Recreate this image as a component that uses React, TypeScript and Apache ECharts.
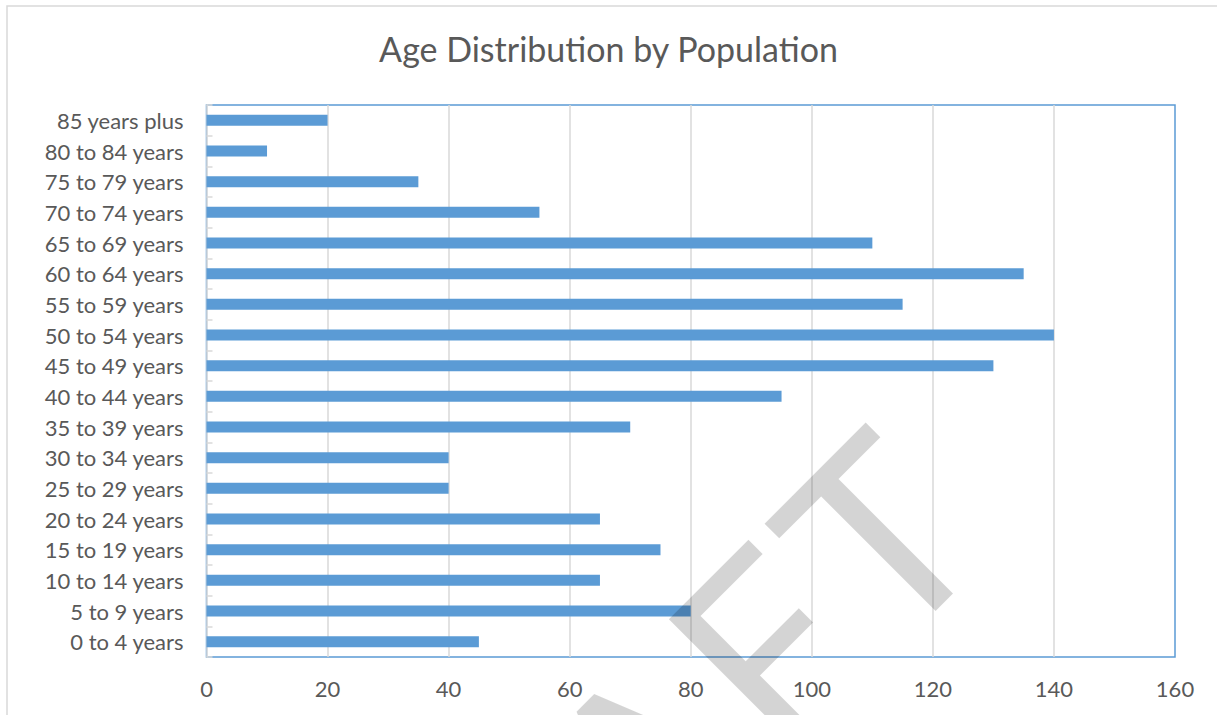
import React, { useEffect, useRef } from "react";
import * as echarts from "echarts";

// Age bands, bottom to top on the category axis
const ageGroups = [
  "0 to 4 years",
  "5 to 9 years",
  "10 to 14 years",
  "15 to 19 years",
  "20 to 24 years",
  "25 to 29 years",
  "30 to 34 years",
  "35 to 39 years",
  "40 to 44 years",
  "45 to 49 years",
  "50 to 54 years",
  "55 to 59 years",
  "60 to 64 years",
  "65 to 69 years",
  "70 to 74 years",
  "75 to 79 years",
  "80 to 84 years",
  "85 years plus",
];

const population = [45, 80, 65, 75, 65, 40, 40, 70, 95, 130, 140, 115, 135, 110, 55, 35, 10, 20];

const xTicks = { min: 0, max: 160, interval: 20 };

// Watermark word, set letter by letter so the tracking can be widened
const watermarkLetters = ["D", "R", "A", "F", "T"];
const watermarkOffsets = [-650, -464, -325, -158, 0];

const BAR_BLUE = "#5b9bd5";
const GRID_GRAY = "#d9d9d9";
const TEXT_GRAY = "#595959";
const FONT = "Lato, 'Open Sans', sans-serif";

export default function App() {
  const ref = useRef<HTMLDivElement>(null);

  useEffect(() => {
    document.body.style.margin = "0";
    if (!ref.current) return;
    const chart = echarts.init(ref.current, undefined, { renderer: "svg" });
    chart.setOption({
      animation: false,
      backgroundColor: "#ffffff",
      title: {
        text: "Age Distribution by Population",
        left: "center",
        top: 26,
        textStyle: { color: TEXT_GRAY, fontFamily: FONT, fontSize: 34, fontWeight: "normal" },
      },
      grid: {
        left: 206.5,
        right: 42,
        top: 105,
        bottom: 58,
        show: true,
        borderColor: BAR_BLUE,
        borderWidth: 1.5,
      },
      xAxis: {
        type: "value",
        min: xTicks.min,
        max: xTicks.max,
        interval: xTicks.interval,
        axisLine: { show: false },
        axisTick: { show: false },
        axisLabel: { color: TEXT_GRAY, fontFamily: FONT, fontSize: 22, margin: 20 },
        splitLine: {
          show: true,
          showMinLine: false,
          showMaxLine: false,
          lineStyle: { color: GRID_GRAY, width: 1.5 },
        },
      },
      yAxis: {
        type: "category",
        data: ageGroups,
        axisLine: { show: true, lineStyle: { color: GRID_GRAY, width: 1.5 } },
        axisTick: { show: true, inside: true, length: 6, lineStyle: { color: GRID_GRAY, width: 1.5 } },
        axisLabel: { color: TEXT_GRAY, fontFamily: FONT, fontSize: 22, margin: 23 },
        splitLine: { show: false },
      },
      series: [
        {
          type: "bar",
          data: population,
          barWidth: 11,
          itemStyle: { color: BAR_BLUE },
        },
      ],
      graphic: [
        {
          type: "rect",
          shape: { x: 7, y: 6, width: 1400, height: 900 },
          style: { fill: "none", stroke: GRID_GRAY, lineWidth: 1.5 },
          silent: true,
          z: 0,
        },
        {
          type: "group",
          x: 943.5,
          y: 601.5,
          rotation: Math.PI / 4,
          silent: true,
          z: 100,
          children: watermarkLetters.map((ch, i) => ({
            type: "text",
            x: watermarkOffsets[i],
            y: -98,
            z: 100,
            style: {
              text: ch,
              fill: "rgba(0,0,0,0.17)",
              font: "255px " + FONT,
              align: "center",
              verticalAlign: "middle",
            },
          })),
        },
      ],
    });
    return () => chart.dispose();
  }, []);

  return <div ref={ref} style={{ width: 1217, height: 715 }} />;
}
